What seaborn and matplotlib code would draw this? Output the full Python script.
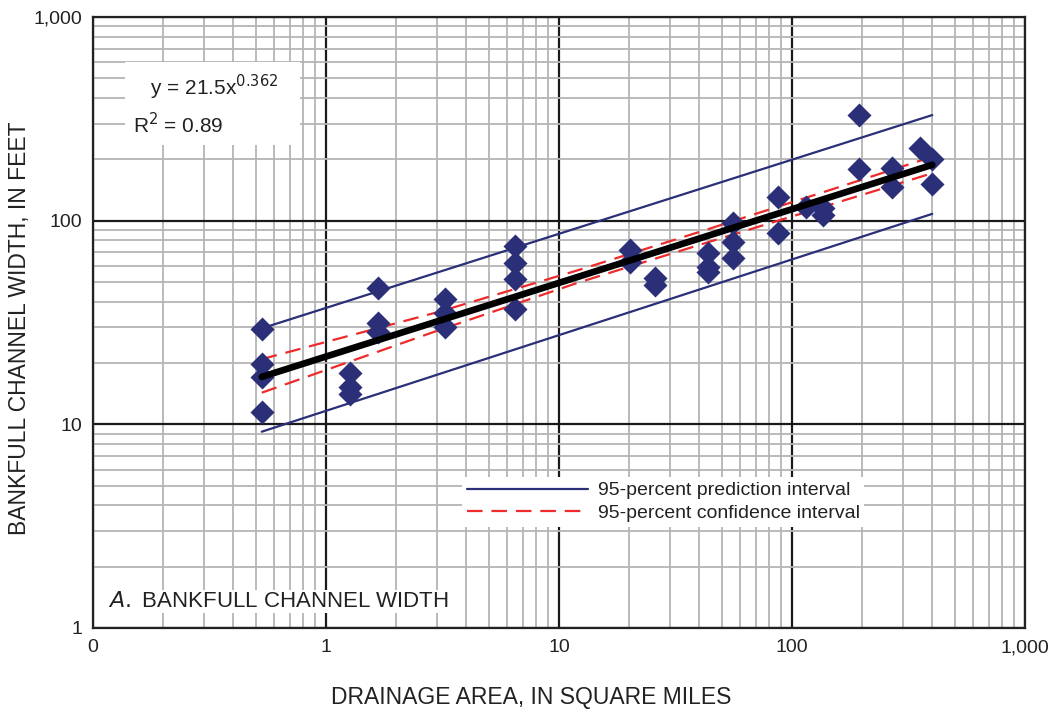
import numpy as np
import pandas as pd
import matplotlib
matplotlib.use("Agg")
import matplotlib.pyplot as plt
import matplotlib.ticker as mticker
import seaborn as sns

# Observed sites: drainage area (sq mi) and bankfull width (ft)
area = [0.53, 0.53, 0.53, 0.53,
        1.27, 1.27, 1.27,
        1.67, 1.67, 1.67,
        3.24, 3.24, 3.24,
        6.47, 6.47, 6.47, 6.47,
        20.2, 20.2,
        25.8, 25.8,
        43.5, 43.5, 43.5,
        55.8, 55.8, 55.8,
        87, 87,
        115, 136, 136,
        194, 194,
        269, 269,
        354, 399, 399]
width = [29.4, 19.8, 17.1, 11.5,
         17.9, 15.3, 14.1,
         46.7, 31.5, 28.4,
         41.3, 35.2, 30.1,
         75.1, 62.0, 51.7, 36.9,
         72.0, 63.0,
         52.3, 48.3,
         69.0, 59.3, 56.0,
         97.5, 78.6, 65.6,
         130.7, 87.0,
         116.7, 115.0, 106.7,
         330.0, 179.5,
         181.5, 146.0,
         227.0, 201.0, 151.0]

# Regression line y = 21.5x^0.362
fit_x = [0.53, 400]
fit_y = [17.1, 188.0]

# 95-percent prediction interval
pi_x = [0.53, 400]
pi_hi = [29.6, 330.0]
pi_lo = [9.2, 108.0]

# 95-percent confidence interval
ci_x = [0.53, 3, 12, 40, 150, 400]
ci_hi = [20.9, 35.5, 57.0, 88.0, 143.0, 206.0]
ci_lo = [14.3, 28.8, 49.5, 76.0, 121.0, 171.0]

sns.set_style("white")
plt.rcParams['font.family'] = ['Liberation Sans', 'DejaVu Sans']

fig = plt.figure(figsize=(10.52, 7.15), dpi=100)
ax = fig.add_axes([0.0884, 0.1217, 0.8859, 0.8545])

ax.set_xscale('log')
ax.set_yscale('log')
ax.set_xlim(0.1, 1000)
ax.set_ylim(1, 1000)

# grid
ax.xaxis.set_minor_locator(mticker.LogLocator(base=10, subs=np.arange(2, 10)))
ax.yaxis.set_minor_locator(mticker.LogLocator(base=10, subs=np.arange(2, 10)))
ax.grid(which='minor', color='#b4b4b4', linewidth=1.3, zorder=0)
ax.grid(which='major', color='#1a1a1a', linewidth=1.6, zorder=0)
ax.set_axisbelow(True)

navy = '#2a2f78'
red = '#ee2a2a'

df_pi = pd.DataFrame({'x': pi_x * 2, 'y': pi_hi + pi_lo, 'g': ['hi'] * 2 + ['lo'] * 2})
sns.lineplot(data=df_pi, x='x', y='y', units='g', estimator=None, color=navy,
             linewidth=1.6, ax=ax, zorder=3)
df_ci = pd.DataFrame({'x': ci_x * 2, 'y': ci_hi + ci_lo, 'g': ['hi'] * len(ci_x) + ['lo'] * len(ci_x)})
sns.lineplot(data=df_ci, x='x', y='y', units='g', estimator=None, color=red,
             linewidth=1.6, dashes=False, ax=ax, zorder=3)
for l in ax.lines[-2:]:
    l.set_dashes([7, 4])

sns.scatterplot(x=area, y=width, marker='D', s=150, color=navy, edgecolor=navy,
                linewidth=0, ax=ax, zorder=4)
sns.lineplot(x=fit_x, y=fit_y, color='black', linewidth=4.8, ax=ax, zorder=5)

# ticks
ax.xaxis.set_major_locator(mticker.FixedLocator([0.1, 1, 10, 100, 1000]))
ax.yaxis.set_major_locator(mticker.FixedLocator([1, 10, 100, 1000]))
ax.set_xticklabels(['0', '1', '10', '100', '1,000'])
ax.set_yticklabels(['1', '10', '100', '1,000'])
ax.xaxis.set_minor_formatter(mticker.NullFormatter())
ax.yaxis.set_minor_formatter(mticker.NullFormatter())
ax.tick_params(which='both', length=0, labelsize=14, colors='#222222', pad=8)

for s in ax.spines.values():
    s.set_color('#222222')
    s.set_linewidth(1.6)

ax.set_xlabel('DRAINAGE AREA, IN SQUARE MILES', fontsize=16.5, color='#222222')
ax.xaxis.set_label_coords(0.47, -0.095)
ax.set_ylabel('BANKFULL CHANNEL WIDTH, IN FEET', fontsize=16.5, color='#222222')
ax.yaxis.set_label_coords(-0.066, 0.49)

# equation box
ax.text(0.043, 0.908, '   y = 21.5x$^{0.362}$   \nR$^2$ = 0.89', transform=ax.transAxes,
        fontsize=15, color='#222222', va='top', ha='left', linespacing=1.45,
        bbox=dict(facecolor='white', edgecolor='none', pad=6), zorder=6)

# legend
handles = [plt.Line2D([], [], color=navy, linewidth=1.6),
           plt.Line2D([], [], color=red, linewidth=1.6, dashes=[7, 4])]
leg = ax.legend(handles, ['95-percent prediction interval', '95-percent confidence interval'],
                loc='upper left', bbox_to_anchor=(0.386, 0.263), frameon=True,
                fontsize=14, handlelength=6.2, handletextpad=0.5, borderpad=0.25,
                labelspacing=0.25, fancybox=False)
leg.get_frame().set_edgecolor('none')
leg.get_frame().set_facecolor('white')
leg.get_frame().set_alpha(1)
for t in leg.get_texts():
    t.set_color('#222222')

ax.text(0.016, 0.026, '$\\it{A.}$ BANKFULL CHANNEL WIDTH', transform=ax.transAxes,
        fontsize=16, color='#222222', va='bottom', ha='left',
        bbox=dict(facecolor='white', edgecolor='none', pad=1), zorder=6)

fig.savefig('out.png', dpi=100)
